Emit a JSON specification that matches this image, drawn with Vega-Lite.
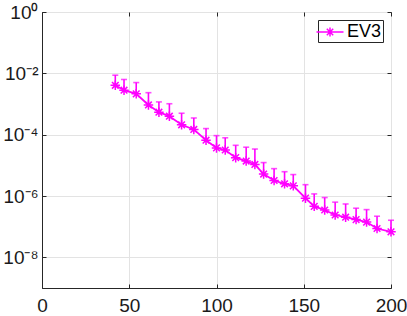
{
  "$schema": "https://vega.github.io/schema/vega-lite/v6.json",
  "width": 349,
  "height": 276,
  "autosize": {"type": "none"},
  "padding": {"left": 42, "top": 12, "right": 16, "bottom": 28},
  "config": {
    "view": {"stroke": "#262626", "strokeWidth": 1},
    "font": "Liberation Sans",
    "axis": {
      "title": null,
      "labelFont": "Liberation Sans",
      "labelFontSize": 19,
      "labelColor": "#1a1a1a",
      "labelFlush": false,
      "labelOverlap": false,
      "domainColor": "#262626",
      "tickColor": "#262626",
      "gridColor": "#e3e3e3",
      "tickSize": -4
    }
  },
  "data": {
    "values": [
      {"x": 42, "v": 4.07e-3, "hi": 8.7e-3, "s": "EV3"},
      {"x": 47, "v": 2.82e-3, "hi": 6.3e-3, "s": "EV3"},
      {"x": 54, "v": 2.14e-3, "hi": 5.0e-3, "s": "EV3"},
      {"x": 61, "v": 9.3e-4, "hi": 2.34e-3, "s": "EV3"},
      {"x": 67, "v": 5.4e-4, "hi": 1.17e-3, "s": "EV3"},
      {"x": 73, "v": 4.0e-4, "hi": 1.02e-3, "s": "EV3"},
      {"x": 80, "v": 2.1e-4, "hi": 5.0e-4, "s": "EV3"},
      {"x": 87, "v": 1.48e-4, "hi": 3.5e-4, "s": "EV3"},
      {"x": 94, "v": 6.6e-5, "hi": 1.58e-4, "s": "EV3"},
      {"x": 100, "v": 3.7e-5, "hi": 9.3e-5, "s": "EV3"},
      {"x": 105, "v": 3.16e-5, "hi": 7.9e-5, "s": "EV3"},
      {"x": 111, "v": 1.78e-5, "hi": 4.5e-5, "s": "EV3"},
      {"x": 117, "v": 1.38e-5, "hi": 3.9e-5, "s": "EV3"},
      {"x": 122, "v": 1.07e-5, "hi": 3.4e-5, "s": "EV3"},
      {"x": 127, "v": 5.2e-6, "hi": 1.23e-5, "s": "EV3"},
      {"x": 133, "v": 3.2e-6, "hi": 7.8e-6, "s": "EV3"},
      {"x": 139, "v": 2.5e-6, "hi": 6.2e-6, "s": "EV3"},
      {"x": 144, "v": 2.14e-6, "hi": 5.0e-6, "s": "EV3"},
      {"x": 151, "v": 8.5e-7, "hi": 2.34e-6, "s": "EV3"},
      {"x": 156, "v": 4.6e-7, "hi": 1.17e-6, "s": "EV3"},
      {"x": 162, "v": 3.5e-7, "hi": 8.9e-7, "s": "EV3"},
      {"x": 168, "v": 2.4e-7, "hi": 6.3e-7, "s": "EV3"},
      {"x": 174, "v": 2.04e-7, "hi": 5.5e-7, "s": "EV3"},
      {"x": 180, "v": 1.7e-7, "hi": 4.0e-7, "s": "EV3"},
      {"x": 186, "v": 1.41e-7, "hi": 3.6e-7, "s": "EV3"},
      {"x": 192, "v": 8.7e-8, "hi": 2.19e-7, "s": "EV3"},
      {"x": 200, "v": 6.8e-8, "hi": 1.62e-7, "s": "EV3"}
    ]
  },
  "resolve": {"axis": {"x": "independent", "y": "independent"}},
  "layer": [
    {
      "mark": {"type": "rule", "color": "#ff00ff", "strokeWidth": 1.6},
      "encoding": {
        "x": {"field": "x", "type": "quantitative", "scale": {"domain": [0, 200], "nice": false}, "axis": null},
        "y": {"field": "v", "type": "quantitative", "scale": {"type": "log", "domain": [1e-9, 1], "nice": false}, "axis": null},
        "y2": {"field": "hi"}
      }
    },
    {
      "mark": {"type": "tick", "orient": "horizontal", "color": "#ff00ff", "size": 6, "thickness": 1.6},
      "encoding": {
        "x": {"field": "x", "type": "quantitative", "axis": null},
        "y": {"field": "hi", "type": "quantitative", "axis": null}
      }
    },
    {
      "mark": {"type": "line", "strokeWidth": 1.8},
      "encoding": {
        "x": {"field": "x", "type": "quantitative", "axis": {"values": [0, 50, 100, 150, 200], "grid": true, "labelPadding": 12}},
        "y": {"field": "v", "type": "quantitative", "axis": {"values": [1e-8, 1e-6, 1e-4, 1e-2, 1], "grid": true, "labelPadding": 8,
          "labelExpr": "'10' + replace(replace(replace(replace(replace(replace('' + round(log(datum.value)/LN10), '-', '⁻'), '0', '⁰'), '2', '²'), '4', '⁴'), '6', '⁶'), '8', '⁸')"}},
        "color": {"field": "s", "type": "nominal", "scale": {"range": ["#ff00ff"]},
          "legend": {"orient": "top-right", "offset": 8, "title": null,
            "symbolType": "M-1.35,0H1.35M0,-0.45V0.45M-0.45,0H0.45M-0.32,-0.32L0.32,0.32M-0.32,0.32L0.32,-0.32",
            "symbolSize": 400, "symbolStrokeWidth": 1.5, "symbolStrokeColor": "#ff00ff", "symbolFillColor": "transparent",
            "labelFontSize": 18, "labelFont": "Liberation Sans", "labelColor": "#000000", "labelOffset": 6,
            "strokeColor": "#262626", "fillColor": "#ffffff", "padding": 1}}
      }
    },
    {
      "mark": {"type": "point", "shape": "M0,-1V1M-1,0H1M-0.7,-0.7L0.7,0.7M-0.7,0.7L0.7,-0.7", "size": 90, "filled": false, "color": "#ff00ff", "strokeWidth": 1.5, "opacity": 1},
      "encoding": {
        "x": {"field": "x", "type": "quantitative", "axis": {"orient": "top", "values": [0, 50, 100, 150, 200], "labels": false, "domain": false, "grid": false}},
        "y": {"field": "v", "type": "quantitative", "axis": {"orient": "right", "values": [1e-8, 1e-6, 1e-4, 1e-2, 1], "labels": false, "domain": false, "grid": false}}
      }
    }
  ]
}
